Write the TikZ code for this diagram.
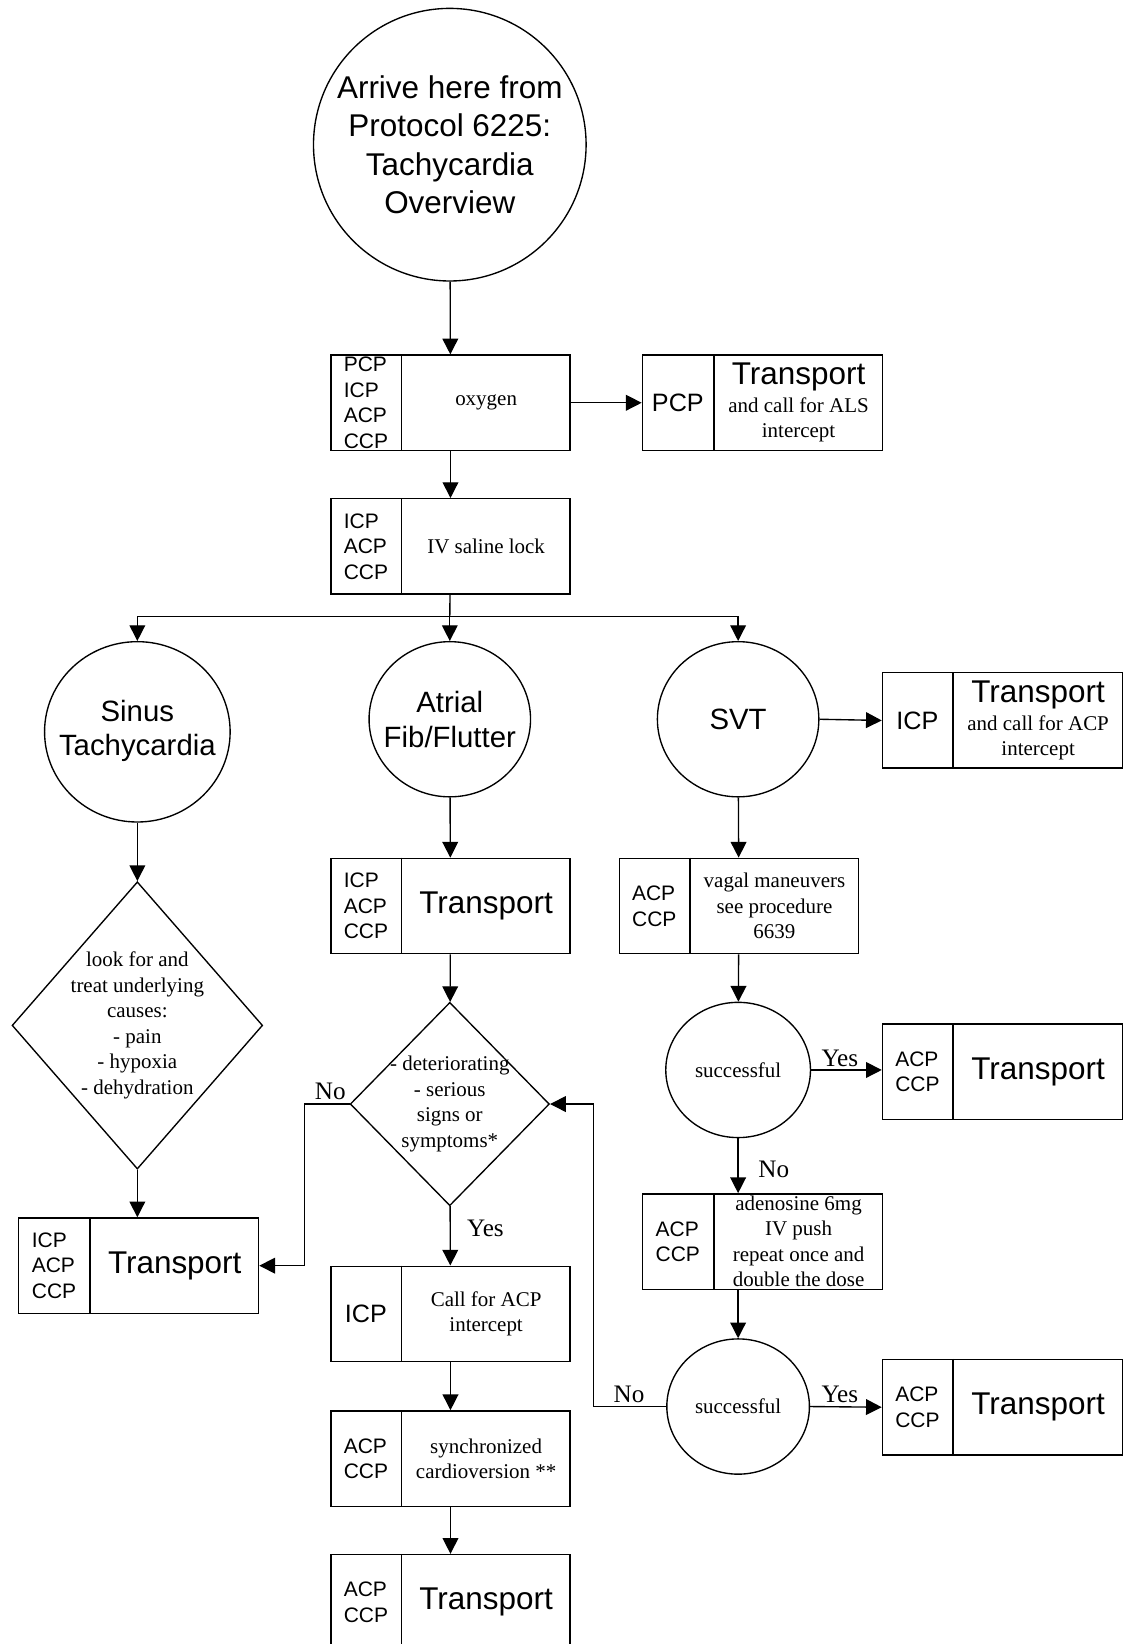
\documentclass[tikz,border=0pt]{standalone}
\usepackage{fontspec}
\setmainfont{Liberation Serif}
\newfontfamily\arial{Liberation Sans}
\usetikzlibrary{shapes.geometric,arrows.meta,calc}

% type sizes
\newcommand\fbig{\arial\fontsize{30}{36.5}\selectfont}
\newcommand\fcirc{\arial\fontsize{28}{33}\selectfont}
\newcommand\fmid{\arial\fontsize{24}{29}\selectfont}
\newcommand\froles{\arial\fontsize{20}{24.3}\selectfont}
\newcommand\fser{\fontsize{20}{24.3}\selectfont}
\newcommand\flab{\fontsize{24}{29}\selectfont}

\tikzset{
  edge/.style={line width=1.3pt},
  arr/.style={edge,-{Triangle[length=15pt,width=15pt]}},
  boxframe/.style={draw,line width=1.3pt,minimum height=91pt,inner sep=0pt,anchor=north west},
  oval/.style={draw,ellipse,line width=1.3pt,inner sep=0pt},
  choice/.style={draw,diamond,line width=1.3pt,inner sep=0pt},
  txt/.style={inner sep=0pt,align=center},
  lab/.style={inner sep=0pt,font=\flab},
}

% two-cell box: name, left x, top y, width, left cell width,
% left font, left text, right font, right text
\newcommand\cellbox[9]{%
  \node[boxframe,minimum width=#4] (#1) at (#2,#3) {};
  \coordinate (#1-d) at ([xshift=#5]#1.north west);
  \draw[edge] (#1-d) -- (#1-d |- #1.south);
  \node[txt,align=left,font=#6] (#1-l) at ($(#1.west)!0.5!(#1-d |- #1.west)$) {#7};
  \node[txt,font=#8] (#1-r) at ($(#1-d |- #1.east)!0.5!(#1.east)$) {#9};
}

\begin{document}
\begin{tikzpicture}[x=1pt,y=-1pt]
\useasboundingbox (0,0) rectangle (1071,1568);
\clip (0,0) rectangle (1071,1568);

% entry point
\node[oval,minimum width=260pt,minimum height=260pt] (start) at (429,138) {};
\node[txt,font=\fbig] (start-t) at (429,138) {Arrive here from\\Protocol 6225:\\Tachycardia\\Overview};

% common steps
\cellbox{ox}{315}{338}{228pt}{68pt}{\froles}{PCP\\ICP\\ACP\\CCP}{\fser}{oxygen}
\cellbox{trp}{612}{338}{229pt}{69pt}{\fmid}{PCP}{\fser}{{\fbig Transport}\\[2pt]and call for ALS\\intercept}
\cellbox{iv}{315}{475}{228pt}{68pt}{\froles}{ICP\\ACP\\CCP}{\fser}{IV saline lock}
\coordinate (split) at (429,588);

% rhythm types
\node[oval,minimum width=177pt,minimum height=172pt] (sinus) at (131,698) {};
\node[txt,font=\fcirc] (sinus-t) at (131,697) {Sinus\\Tachycardia};
\node[oval,minimum width=154pt,minimum height=148pt] (atrial) at (429,686) {};
\node[txt,font=\fcirc] (atrial-t) at (429,686) {Atrial\\Fib/Flutter};
\node[oval,minimum width=154pt,minimum height=148pt] (svt) at (704,686) {};
\node[txt,font=\fcirc] (svt-t) at (704,686) {SVT};
\cellbox{trI}{841}{641}{229pt}{68pt}{\fmid}{ICP}{\fser}{{\fbig Transport}\\[2pt]and call for ACP\\intercept}

% sinus tachycardia branch
\node[choice,minimum width=239pt,minimum height=274pt] (d1) at (131,978) {};
\node[txt,font=\fser] (d1-t) at (131,978) {look for and\\treat underlying\\causes:\\- pain\\- hypoxia\\- dehydration};
\cellbox{tr1}{17}{1161}{229pt}{69pt}{\froles}{ICP\\ACP\\CCP}{\fbig}{Transport}

% atrial fib/flutter branch
\cellbox{trA}{315}{818}{228pt}{68pt}{\froles}{ICP\\ACP\\CCP}{\fbig}{Transport}
\node[choice,minimum width=190pt,minimum height=194pt] (d2) at (429,1053) {};
\node[txt,font=\fser] (d2-t) at (429,1053) {- deteriorating\\- serious\\signs or\\symptoms*};
\cellbox{call}{315}{1207}{228pt}{68pt}{\fmid}{ICP}{\fser}{Call for ACP\\intercept}
\cellbox{sync}{315}{1345}{228pt}{68pt}{\froles}{ACP\\CCP}{\fser}{synchronized\\cardioversion **}
\cellbox{trF}{315}{1482}{228pt}{68pt}{\froles}{ACP\\CCP}{\fbig}{Transport}

% SVT branch
\cellbox{vag}{590}{818}{228pt}{68pt}{\froles}{ACP\\CCP}{\fser}{vagal maneuvers\\see procedure\\6639}
\node[oval,minimum width=138pt,minimum height=129pt] (c1) at (704,1020.5) {};
\node[txt,font=\fser] (c1-t) at (704,1020.5) {successful};
\cellbox{trS1}{841}{976}{229pt}{68pt}{\froles}{ACP\\CCP}{\fbig}{Transport}
\cellbox{ad}{612}{1138}{229pt}{69pt}{\froles}{ACP\\CCP}{\fser}{adenosine 6mg\\IV push\\repeat once and\\double the dose}
\node[oval,minimum width=136pt,minimum height=129pt] (c2) at (704,1341.5) {};
\node[txt,font=\fser] (c2-t) at (704,1341.5) {successful};
\cellbox{trS2}{841}{1296}{229pt}{68pt}{\froles}{ACP\\CCP}{\fbig}{Transport}

% connectors
\draw[arr] (start) -- (ox);
\draw[arr] (ox.east) -- (trp.west);
\draw[arr] (ox) -- (iv);
\draw[edge] (iv) -- (split);
\draw[arr] (split) -| (sinus.north);
\draw[arr] (split) -- (atrial);
\draw[arr] (split) -| (svt.north);
\draw[arr] (svt.east) -- (trI.west);

\draw[arr] (sinus) -- (d1);
\draw[arr] (d1.south) -- (d1.south |- tr1.north);

\draw[arr] (atrial) -- (trA);
\draw[arr] (trA) -- (d2);
\draw[arr] (d2.west) -- ++(-43,0) |- (tr1.east);
\draw[arr] (d2) -- (call);
\draw[arr] (call) -- (sync);
\draw[arr] (sync) -- (trF);

\draw[arr] (svt) -- (vag);
\draw[arr] (vag) -- (c1);
\draw[arr] (c1.east) -- (c1.east -| trS1.west);
\draw[arr] (c1.south) -- (c1.south |- ad.north);
\draw[arr] (c2.north |- ad.south) -- (c2.north);
\draw[arr] (c2.east) -- (trS2.west);
\draw[arr] (c2.west) -- ++(-69,0) |- (d2.east);

% branch labels
\node[lab] (no1) at (315,1041) {No};
\node[lab] (yes1) at (463,1172) {Yes};
\node[lab] (yes2) at (801,1009) {Yes};
\node[lab] (no2) at (738,1115) {No};
\node[lab] (no3) at (600,1330) {No};
\node[lab] (yes3) at (801,1330) {Yes};
\end{tikzpicture}
\end{document}
